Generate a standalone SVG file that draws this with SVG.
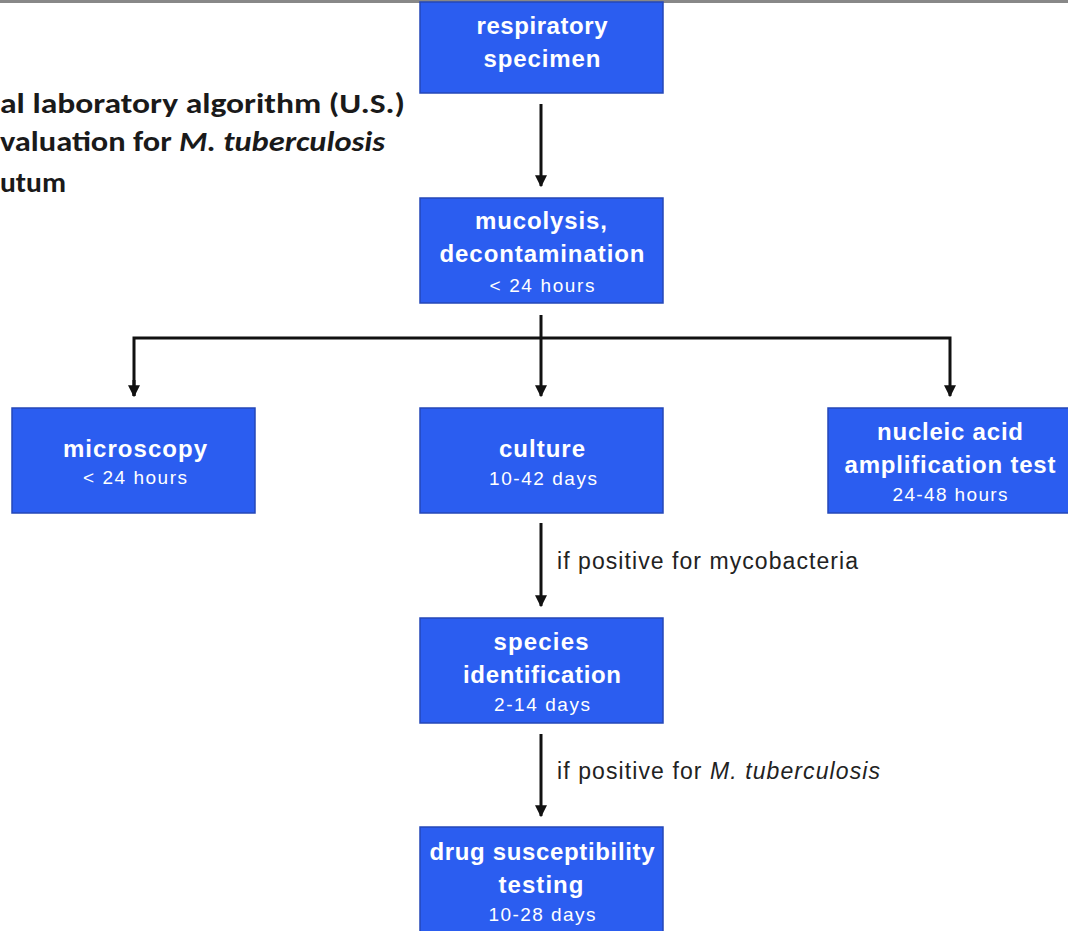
<svg xmlns="http://www.w3.org/2000/svg" width="1068" height="931" viewBox="0 0 1068 931">
<style>
.box{fill:#2b5df0;stroke:#2547b8;stroke-width:1.5}
.t{font-family:"Liberation Sans",Arial,sans-serif;fill:#fff;text-anchor:middle}
.b{font-weight:bold;font-size:24px}
.s{font-size:19px}
.ln{stroke:#111;stroke-width:3;fill:none}
.lbl{font-family:"Liberation Sans",Arial,sans-serif;font-size:23px;fill:#222}
.title{font-family:Carlito,Calibri,Lato,"Liberation Sans",sans-serif;font-weight:bold;font-size:28px;fill:#1a1a1a}
</style>
<defs>
<marker id="ah" viewBox="0 0 10 10" refX="9" refY="5" markerWidth="4" markerHeight="4" orient="auto"><path d="M0,0L10,5L0,10z" fill="#111"/></marker>
</defs>
<rect width="1068" height="931" fill="#fff"/>
<rect x="0" y="0" width="1068" height="3" fill="#888"/>
<g id="title">
<text class="title" x="0" y="113" textLength="405" lengthAdjust="spacingAndGlyphs">al laboratory algorithm (U.S.)</text>
<text class="title" x="0" y="151" textLength="385" lengthAdjust="spacingAndGlyphs">valuation for <tspan font-style="italic">M. tuberculosis</tspan></text>
<text class="title" x="0" y="192" textLength="66" lengthAdjust="spacingAndGlyphs">utum</text>
</g>
<g id="connectors">
<line class="ln" x1="541" y1="104" x2="541" y2="186" marker-end="url(#ah)"/>
<line class="ln" x1="541" y1="315" x2="541" y2="396" marker-end="url(#ah)"/>
<polyline class="ln" points="134,396 134,338 950,338 950,396" marker-end="url(#ah)"/>
<line class="ln" x1="134" y1="380" x2="134" y2="396" marker-end="url(#ah)"/>
<line class="ln" x1="541" y1="523" x2="541" y2="606" marker-end="url(#ah)"/>
<line class="ln" x1="541" y1="734" x2="541" y2="816" marker-end="url(#ah)"/>
<text class="lbl" x="557" y="569" textLength="301">if positive for mycobacteria</text>
<text class="lbl" x="557" y="779" textLength="323">if positive for <tspan font-style="italic">M. tuberculosis</tspan></text>
</g>
<g id="respiratory">
<rect class="box" x="420" y="2" width="243" height="91"/>
<text class="t b" x="542" y="34" textLength="131">respiratory</text>
<text class="t b" x="542" y="67" textLength="117">specimen</text>
</g>
<g id="mucolysis">
<rect class="box" x="420" y="198" width="243" height="105"/>
<text class="t b" x="541" y="229" textLength="132">mucolysis,</text>
<text class="t b" x="542" y="262" textLength="205">decontamination</text>
<text class="t s" x="542" y="292" textLength="105">&lt; 24 hours</text>
</g>
<g id="microscopy">
<rect class="box" x="12" y="408" width="243" height="105"/>
<text class="t b" x="135" y="457" textLength="144">microscopy</text>
<text class="t s" x="135" y="484" textLength="104">&lt; 24 hours</text>
</g>
<g id="culture">
<rect class="box" x="420" y="408" width="243" height="105"/>
<text class="t b" x="542" y="457" textLength="86">culture</text>
<text class="t s" x="543" y="485" textLength="108">10-42 days</text>
</g>
<g id="naat">
<rect class="box" x="828" y="408" width="243" height="105"/>
<text class="t b" x="950" y="440" textLength="146">nucleic acid</text>
<text class="t b" x="950" y="473" textLength="211">amplification test</text>
<text class="t s" x="950" y="501" textLength="115">24-48 hours</text>
</g>
<g id="species">
<rect class="box" x="420" y="618" width="243" height="105"/>
<text class="t b" x="541" y="650" textLength="95">species</text>
<text class="t b" x="542" y="683" textLength="158">identification</text>
<text class="t s" x="542" y="711" textLength="96">2-14 days</text>
</g>
<g id="dst">
<rect class="box" x="420" y="827" width="243" height="106"/>
<text class="t b" x="542" y="860" textLength="225">drug susceptibility</text>
<text class="t b" x="541" y="893" textLength="85">testing</text>
<text class="t s" x="542" y="921" textLength="107">10-28 days</text>
</g>
</svg>
